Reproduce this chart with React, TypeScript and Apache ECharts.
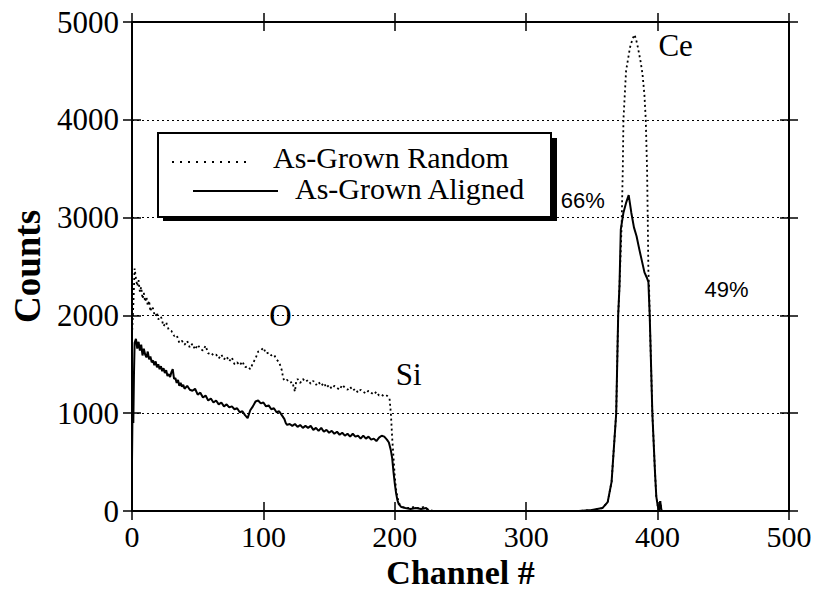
import React, { useEffect, useRef } from "react";
import * as echarts from "echarts";

// ---- Data ----
const randomChannels = [0, 1, 2, 3, 4, 5, 6, 7, 8, 9, 10, 11, 12, 13, 14, 15, 16, 17, 18, 19, 20, 22, 24, 26, 28, 30, 32, 34, 36, 38, 40, 42, 44, 46, 48, 50, 52, 54, 56, 58, 60, 62, 64, 66, 68, 70, 72, 74, 76, 78, 80, 82, 84, 86, 88, 90, 92, 94, 96, 98, 100, 102, 104, 106, 108, 110, 112, 114, 115, 116, 118, 120, 122, 124, 125, 126, 128, 130, 132, 134, 136, 138, 140, 142, 144, 146, 148, 150, 152, 154, 156, 158, 160, 162, 164, 166, 168, 170, 172, 174, 176, 178, 180, 182, 184, 186, 188, 190, 192, 194, 196, 197, 198, 199, 200, 201, 202, 203, 204, 206, 210, 214, 218, 222, 226, 230, 340, 350, 358, 362, 365, 367, 368.5, 370, 371, 372.6, 373.5, 374, 376, 379, 381, 382.5, 384, 385, 387, 388.5, 390, 391, 392, 392.5, 393, 393.5, 394, 396, 398, 399, 400, 401, 402, 403, 410, 500];
const randomCounts = [1800, 2100, 2480, 2380, 2300, 2360, 2240, 2290, 2170, 2230, 2140, 2190, 2100, 2150, 2040, 2090, 2070, 2010, 1990, 2030, 1960, 1990, 1890, 1930, 1850, 1840, 1790, 1800, 1720, 1740, 1700, 1740, 1670, 1710, 1650, 1700, 1660, 1640, 1690, 1610, 1620, 1590, 1600, 1560, 1600, 1550, 1580, 1530, 1570, 1500, 1520, 1490, 1530, 1470, 1480, 1450, 1510, 1560, 1630, 1640, 1670, 1610, 1620, 1590, 1600, 1550, 1520, 1440, 1360, 1330, 1340, 1310, 1320, 1220, 1330, 1350, 1310, 1350, 1320, 1340, 1300, 1330, 1290, 1320, 1280, 1310, 1260, 1290, 1250, 1280, 1260, 1240, 1290, 1260, 1240, 1270, 1230, 1250, 1210, 1240, 1220, 1200, 1230, 1210, 1190, 1220, 1180, 1190, 1170, 1180, 1150, 1000, 750, 550, 350, 220, 140, 90, 60, 40, 30, 40, 30, 40, 10, 0, 0, 10, 30, 90, 300, 700, 1000, 2000, 2300, 2910, 3490, 4000, 4500, 4740, 4830, 4870, 4800, 4740, 4600, 4470, 4250, 4000, 3490, 2980, 2440, 2300, 2000, 1000, 400, 150, 60, 0, 100, 0, 0, 0];

const alignedChannels = [0, 0.5, 1, 1.5, 2, 3, 4, 5, 6, 7, 8, 9, 10, 11, 12, 13, 14, 15, 16, 17, 18, 19, 20, 21, 22, 23, 24, 25, 26, 27, 28, 29, 30, 31, 32, 33, 34, 35, 36, 37, 38, 39, 40, 42, 44, 46, 48, 50, 52, 54, 56, 58, 60, 62, 64, 66, 68, 70, 72, 74, 76, 78, 80, 82, 84, 86, 88, 89, 90, 92, 94, 96, 98, 100, 102, 104, 106, 108, 110, 112, 114, 116, 117, 118, 120, 122, 124, 126, 128, 130, 132, 134, 136, 138, 140, 142, 144, 146, 148, 150, 152, 154, 156, 158, 160, 162, 164, 166, 168, 170, 172, 174, 176, 178, 180, 182, 184, 186, 188, 190, 192, 194, 195.5, 197, 198, 199, 200, 201, 202, 203, 205, 208, 212, 216, 220, 224, 226, 340, 350, 358, 362, 365, 367, 368.5, 370, 371, 372, 374, 376, 378, 380, 382, 384, 386, 388, 390, 392, 393, 394, 396, 398, 399, 400, 401, 402, 403, 500];
const alignedCounts = [500, 1150, 900, 1400, 1720, 1760, 1660, 1730, 1640, 1700, 1590, 1660, 1600, 1570, 1630, 1550, 1580, 1520, 1540, 1490, 1530, 1470, 1500, 1450, 1480, 1430, 1460, 1410, 1440, 1380, 1400, 1370, 1420, 1450, 1350, 1360, 1310, 1340, 1280, 1310, 1270, 1290, 1250, 1280, 1240, 1230, 1250, 1190, 1210, 1160, 1180, 1130, 1150, 1110, 1130, 1090, 1110, 1070, 1090, 1060, 1070, 1040, 1050, 1010, 1020, 980, 950, 990, 1030, 1070, 1120, 1130, 1100, 1110, 1070, 1080, 1040, 1050, 1010, 1020, 980, 940, 900, 880, 890, 870, 890, 860, 880, 850, 870, 850, 870, 830, 850, 820, 850, 810, 830, 800, 820, 790, 810, 780, 800, 770, 790, 760, 790, 760, 770, 740, 770, 740, 760, 730, 740, 715, 750, 770, 760, 730, 700, 620, 540, 400, 280, 180, 110, 70, 40, 30, 20, 30, 20, 30, 0, 0, 10, 30, 90, 300, 700, 1000, 2000, 2300, 2880, 3050, 3150, 3230, 3050, 2900, 2810, 2680, 2560, 2440, 2380, 2340, 2000, 1000, 400, 150, 60, 0, 100, 0, 0];

const xTicks = [0, 100, 200, 300, 400, 500];
const yTicks = [0, 1000, 2000, 3000, 4000, 5000];

const annoText = ["O", "Si", "Ce", "66%", "49%"];
const annoChannel = [113, 210.6, 413.7, 343, 452.5];
const annoCount = [1994, 1400, 4755, 3170, 2260];

const legendNames = ["As-Grown Random", "As-Grown Aligned"];

const SERIF = "'Liberation Serif', 'Times New Roman', serif";
const SANS = "'Liberation Sans', Arial, sans-serif";

export default function App() {
  const ref = useRef<HTMLDivElement>(null);

  useEffect(() => {
    if (!ref.current) return;
    const chart = echarts.init(ref.current, undefined, { renderer: "svg" });

    const xMin = xTicks[0];
    const xMax = xTicks[xTicks.length - 1];
    const xInt = xTicks[1] - xTicks[0];
    const yMin = yTicks[0];
    const yMax = yTicks[yTicks.length - 1];
    const yInt = yTicks[1] - yTicks[0];

    const lineBlack = { color: "#000", width: 2 };
    const tickStyle = { color: "#000", width: 1.5 };

    const mkX = (position: string, inside: boolean, main: boolean) => ({
      type: "value",
      position,
      min: xMin,
      max: xMax,
      interval: xInt,
      axisLine: { show: main, onZero: false, lineStyle: lineBlack },
      axisTick: { show: true, inside, length: 9, lineStyle: tickStyle },
      axisLabel: main && position === "bottom"
        ? { show: true, color: "#000", fontFamily: SERIF, fontSize: 30, margin: 10, formatter: (v: number) => String(v) }
        : { show: false },
      splitLine: { show: false },
      name: main && position === "bottom" ? "Channel #" : "",
      nameLocation: "middle",
      nameGap: 38,
      nameTextStyle: { color: "#000", fontFamily: SERIF, fontSize: 34, fontWeight: "bold" },
    });

    const mkY = (position: string, inside: boolean, main: boolean) => ({
      type: "value",
      position,
      min: yMin,
      max: yMax,
      interval: yInt,
      axisLine: { show: main, onZero: false, lineStyle: lineBlack },
      axisTick: { show: true, inside, length: 9, lineStyle: tickStyle },
      axisLabel: main && position === "left"
        ? { show: true, color: "#000", fontFamily: SERIF, fontSize: 31, margin: 13, formatter: (v: number) => String(v) }
        : { show: false },
      splitLine: main && position === "left"
        ? { show: true, lineStyle: { color: "#000", width: 1.2, type: [2, 3] } }
        : { show: false },
      name: main && position === "left" ? "Counts" : "",
      nameLocation: "middle",
      nameRotate: 90,
      nameGap: 82,
      nameTextStyle: { color: "#000", fontFamily: SERIF, fontSize: 37, fontWeight: "bold" },
    });

    const randomData = randomChannels.map((c, i) => [c, randomCounts[i]]);
    const alignedData = alignedChannels.map((c, i) => [c, alignedCounts[i]]);

    const legendGroup = {
      id: "legendBox",
      type: "group",
      z: 100,
      children: [
        { type: "rect", shape: { x: 163, y: 138, width: 394, height: 83 }, style: { fill: "#000" } },
        { type: "rect", shape: { x: 158, y: 133, width: 393, height: 84 }, style: { fill: "#fff", stroke: "#000", lineWidth: 2 } },
        { type: "line", shape: { x1: 172, y1: 162, x2: 248, y2: 162 }, style: { stroke: "#000", lineWidth: 1.8, lineDash: [2, 6] } },
        { type: "line", shape: { x1: 193, y1: 191, x2: 278, y2: 191 }, style: { stroke: "#000", lineWidth: 1.8 } },
        { type: "text", x: 273, y: 157, style: { text: legendNames[0], fill: "#000", font: `30px ${SERIF}`, verticalAlign: "middle", align: "left" } },
        { type: "text", x: 295, y: 188, style: { text: legendNames[1], fill: "#000", font: `30px ${SERIF}`, verticalAlign: "middle", align: "left" } },
      ],
    };

    chart.setOption({
      animation: false,
      backgroundColor: "#fff",
      grid: { left: 132, right: 26, top: 22, bottom: 79, containLabel: false, outerBoundsMode: "none" },
      xAxis: [
        mkX("bottom", false, true),
        mkX("bottom", true, false),
        mkX("top", false, true),
        mkX("top", true, false),
      ],
      yAxis: [
        mkY("left", false, true),
        mkY("left", true, false),
        mkY("right", false, true),
        mkY("right", true, false),
      ],
      series: [
        {
          name: legendNames[0],
          type: "line",
          data: randomData,
          showSymbol: false,
          symbol: "none",
          lineStyle: { color: "#000", width: 1.8, type: [2, 3] },
          z: 3,
        },
        {
          name: legendNames[1],
          type: "line",
          data: alignedData,
          showSymbol: false,
          symbol: "none",
          lineStyle: { color: "#000", width: 2 },
          z: 4,
        },
      ],
      graphic: [legendGroup],
    });

    // annotations anchored at data coordinates
    const annoGraphics = annoText.map((t, i) => {
      const p = chart.convertToPixel({ xAxisIndex: 0, yAxisIndex: 0 }, [annoChannel[i], annoCount[i]]) as number[];
      const isPct = t.indexOf("%") >= 0;
      return {
        id: "anno" + i,
        type: "text",
        x: p[0],
        y: p[1],
        z: 50,
        style: {
          text: t,
          fill: "#000",
          font: isPct ? `22px ${SANS}` : `31px ${SERIF}`,
          align: "center",
          verticalAlign: "middle",
        },
      };
    });
    chart.setOption({ graphic: [legendGroup, ...annoGraphics] });

    return () => chart.dispose();
  }, []);

  return (
    <div
      ref={ref}
      style={{ position: "fixed", left: 0, top: 0, width: 815, height: 590, background: "#fff" }}
    />
  );
}
